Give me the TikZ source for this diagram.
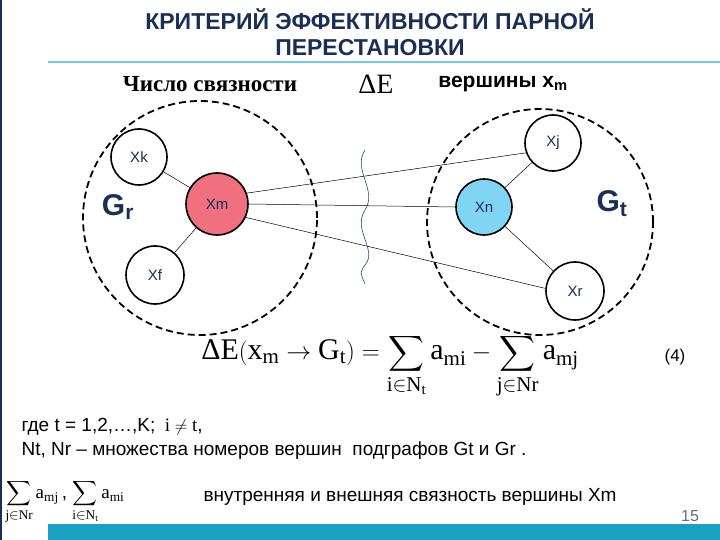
\documentclass[tikz,border=0pt]{standalone}
\usepackage{amsmath}
\usepackage{fontspec}
\setmainfont{Liberation Sans}
\setmathrm{Liberation Serif}
\newfontfamily\serif{Liberation Serif}
\definecolor{navy}{HTML}{1A2F55}
\definecolor{pinkred}{HTML}{F07080}
\definecolor{lblue}{HTML}{80D4F4}
\definecolor{teal}{HTML}{1AA0C0}
\newcommand{\dlt}{\text{\serif Δ}}
\tikzset{
  vtx/.style={circle,draw,line width=1.6pt,minimum size=58pt,inner sep=0pt,font=\fontsize{15}{17}\selectfont,text=navy},
  grp/.style={draw,line width=1.8pt,dash pattern=on 7pt off 4pt},
  edge/.style={line width=0.5pt},
  glabel/.style={font=\bfseries\fontsize{30}{32}\selectfont,text=navy},
  body/.style={anchor=west,font=\fontsize{19}{22}\selectfont}
}
\begin{document}
\begin{tikzpicture}[x=1pt,y=-1pt]
\useasboundingbox (0,0) rectangle (720,540);
\fill[white] (0,0) rectangle (720,540);
\draw[navy,line width=2pt] (1,0) -- (1,540);
\fill[teal] (48,524) rectangle (720,540);
\draw[lblue!80!teal,line width=1.5pt] (48,62) -- (720,62);
\node[font=\bfseries\fontsize{23}{26}\selectfont,text=navy,align=center] (title) at (370,32) {КРИТЕРИЙ ЭФФЕКТИВНОСТИ ПАРНОЙ\\ПЕРЕСТАНОВКИ};
\node[font=\serif\bfseries\fontsize{23}{26}\selectfont] (t1) at (210,84) {Число связности};
\node[font=\serif\fontsize{28}{30}\selectfont] (t2) at (376,84) {ΔE};
\node[font=\bfseries\fontsize{21}{24}\selectfont] (t3) at (503,84) {вершины x\textsubscript{m}};
% groups
\node[grp,circle,minimum size=234pt] (Gr) at (200,218) {};
\node[grp,circle,minimum size=226pt] (Gtc) at (540,222) {};
\node[glabel] (grl) at (118,207) {G\textsubscript{r}};
\node[glabel] (gtl) at (612,204) {G\textsubscript{t}};
% vertices
\node[vtx,minimum size=56pt] (xk) at (139,157) {Xk};
\node[vtx,minimum size=62pt,fill=pinkred] (xm) at (217,204) {Xm};
\node[vtx,minimum size=58pt] (xf) at (155,275) {Xf};
\node[vtx,minimum size=56pt,fill=lblue] (xn) at (484,207) {Xn};
\node[vtx,minimum size=56pt] (xj) at (553,143) {Xj};
\node[vtx,minimum size=58pt] (xr) at (575,291) {Xr};
\draw[edge] (xm) -- (xk);
\draw[edge] (xm) -- (xf);
\draw[edge] (xn) -- (xj);
\draw[edge] (xn) -- (xr);
\draw[edge] (xm.20) -- (xj.200);
\draw[edge] (xm.0) -- (xn.180);
\draw[edge] (xm.-25) -- (xr.175);
\coordinate (w1) at (365,150);
\coordinate (w2) at (365,284);
\draw[navy!70!teal,line width=0.6pt] (w1) .. controls (352,170) and (378,190) .. (365,210) .. controls (352,230) and (378,250) .. (365,265) .. controls (360,272) .. (w2);
% formula
\node[font=\fontsize{30}{32}\selectfont] (f) at (390,366) {$\displaystyle\mathrm{\dlt E(x_m\rightarrow G_t)=\sum_{i\in N_t}a_{mi}-\sum_{j\in Nr}a_{mj}}$};
\node[font=\fontsize{17}{19}\selectfont] (n4) at (675,357) {(4)};
\node[body] (l1) at (18,427) {где t = 1,2,…,K;\enspace $\mathrm{i\neq t}$,};
\node[body] (l2) at (18,451) {Nt, Nr – множества номеров вершин\ \ подграфов Gt и Gr .};
\node[anchor=west,font=\fontsize{19}{21}\selectfont] (l3) at (2,502) {$\displaystyle\mathrm{\sum_{j\in Nr}a_{mj}}$\,, $\displaystyle\mathrm{\sum_{i\in N_t}a_{mi}}$};
\node[body] (l4) at (200,497) {внутренняя и внешняя связность вершины Xm};
\node[font=\fontsize{16}{18}\selectfont,text=navy!70] (pg) at (690,516) {15};
\end{tikzpicture}
\end{document}
